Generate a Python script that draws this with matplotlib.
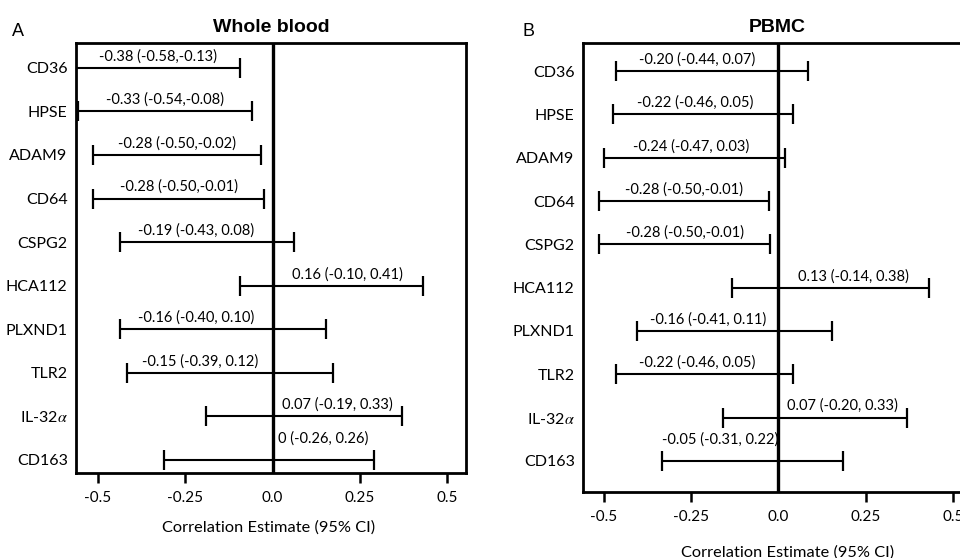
import numpy as np
import matplotlib
matplotlib.use("Agg")
import matplotlib.pyplot as plt

plt.rcParams['font.family'] = ['Lato', 'DejaVu Sans']
plt.rcParams['mathtext.fontset'] = 'stix'

# genes, top to bottom
genes = ["CD36", "HPSE", "ADAM9", "CD64", "CSPG2", "HCA112", "PLXND1", "TLR2", r"IL-32$\alpha$", "CD163"]

# whole blood: drawn interval ends, estimates, printed labels
wb_lower = [-0.60, -0.558, -0.513, -0.513, -0.437, -0.093, -0.437, -0.418, -0.191, -0.311]
wb_upper = [-0.093, -0.060, -0.034, -0.026, 0.062, 0.430, 0.153, 0.172, 0.370, 0.289]
wb_est = [-0.38, -0.33, -0.28, -0.28, -0.19, 0.16, -0.16, -0.15, 0.07, 0.0]
wb_text = ["-0.38 (-0.58,-0.13)", "-0.33 (-0.54,-0.08)", "-0.28 (-0.50,-0.02)",
           "-0.28 (-0.50,-0.01)", "-0.19 (-0.43, 0.08)", "0.16 (-0.10, 0.41)",
           "-0.16 (-0.40, 0.10)", "-0.15 (-0.39, 0.12)", "0.07 (-0.19, 0.33)",
           "0 (-0.26, 0.26)"]

# PBMC
pb_lower = [-0.466, -0.475, -0.500, -0.514, -0.514, -0.133, -0.405, -0.464, -0.160, -0.335]
pb_upper = [0.085, 0.042, 0.019, -0.027, -0.023, 0.431, 0.153, 0.042, 0.370, 0.186]
pb_est = [-0.20, -0.22, -0.24, -0.28, -0.28, 0.13, -0.16, -0.22, 0.07, -0.05]
pb_text = ["-0.20 (-0.44, 0.07)", "-0.22 (-0.46, 0.05)", "-0.24 (-0.47, 0.03)",
           "-0.28 (-0.50,-0.01)", "-0.28 (-0.50,-0.01)", "0.13 (-0.14, 0.38)",
           "-0.16 (-0.41, 0.11)", "-0.22 (-0.46, 0.05)", "0.07 (-0.20, 0.33)",
           "-0.05 (-0.31, 0.22)"]

xticks = [-0.5, -0.25, 0.0, 0.25, 0.5]
xticklabels = ["-0.5", "-0.25", "0.0", "0.25", "0.5"]


def panel(ax, lower, upper, est, text, title, xlim, ylim, labelpad):
    y = np.arange(len(genes))
    ax.hlines(y, lower, upper, color='black', lw=1.5)
    ax.plot(lower, y, ls='none', marker='|', ms=15, mew=1.6, color='black')
    ax.plot(upper, y, ls='none', marker='|', ms=15, mew=1.6, color='black')
    ax.axvline(0, color='black', lw=2.4)
    # label sits over the visible part of the bar on the estimate's side of zero
    labels = []
    for yi, lo, hi, e, t in zip(y, lower, upper, est, text):
        lo = max(lo, xlim[0])
        hi = min(hi, xlim[1])
        if e < 0:
            a, b = lo, min(hi, 0)
        else:
            a, b = max(lo, 0), hi
        labels.append(ax.text((a + b) / 2, yi - 0.1, t, ha='center', va='bottom', fontsize=10.5))
    ax.set_xlim(xlim)
    ax.set_ylim(ylim)
    ax.set_yticks(y)
    ax.set_yticklabels(genes, fontsize=11.5)
    ax.set_xticks(xticks)
    ax.set_xticklabels(xticklabels, fontsize=11)
    ax.tick_params(axis='y', length=0, pad=6)
    ax.tick_params(axis='x', length=7.2, width=1.8, pad=6)
    # no tick mark at zero, the reference line stands there
    ax.xaxis.get_major_ticks()[2].tick1line.set_visible(False)
    for s in ax.spines.values():
        s.set_linewidth(2)
    ax.set_xlabel("Correlation Estimate (95% CI)", fontsize=11.8, labelpad=labelpad)
    ax.set_title(title, fontsize=14, fontweight='bold', family='Liberation Sans', pad=8)
    return labels


fig = plt.figure(figsize=(9.6, 5.58), dpi=100)
ax1 = fig.add_axes([0.0792, 0.1523, 0.4063, 0.7706])
ax2 = fig.add_axes([0.6073, 0.1183, 0.4052, 0.8047])

lab1 = panel(ax1, wb_lower, wb_upper, wb_est, wb_text, "Whole blood", (-0.563, 0.554), (9.3, -0.57), 11)
lab2 = panel(ax2, pb_lower, pb_upper, pb_est, pb_text, "PBMC", (-0.560, 0.555), (9.72, -0.65), 15)
ax1.xaxis.label.set_x(0.494)
ax2.xaxis.label.set_x(0.527)

# lift a label clear of the caps when it runs into one
fig.canvas.draw()
renderer = fig.canvas.get_renderer()
for ax, labels, lower, upper in [(ax1, lab1, wb_lower, wb_upper), (ax2, lab2, pb_lower, pb_upper)]:
    xmin, xmax = ax.get_xlim()
    for txt, lo, hi in zip(labels, lower, upper):
        bb = txt.get_window_extent(renderer)
        caps = [c for c in (lo, hi) if xmin <= c <= xmax]
        px = [ax.transData.transform((c, 0))[0] for c in caps]
        if any(bb.x0 - 6 <= p <= bb.x1 + 6 for p in px):
            x, yy = txt.get_position()
            txt.set_position((x, yy - 0.22))

fig.text(12 / 960, 0.944, "A", fontsize=13, family='Liberation Sans', va='center')
fig.text(523 / 960, 0.944, "B", fontsize=13, family='Liberation Sans', va='center')

fig.savefig("out.png", dpi=100)
